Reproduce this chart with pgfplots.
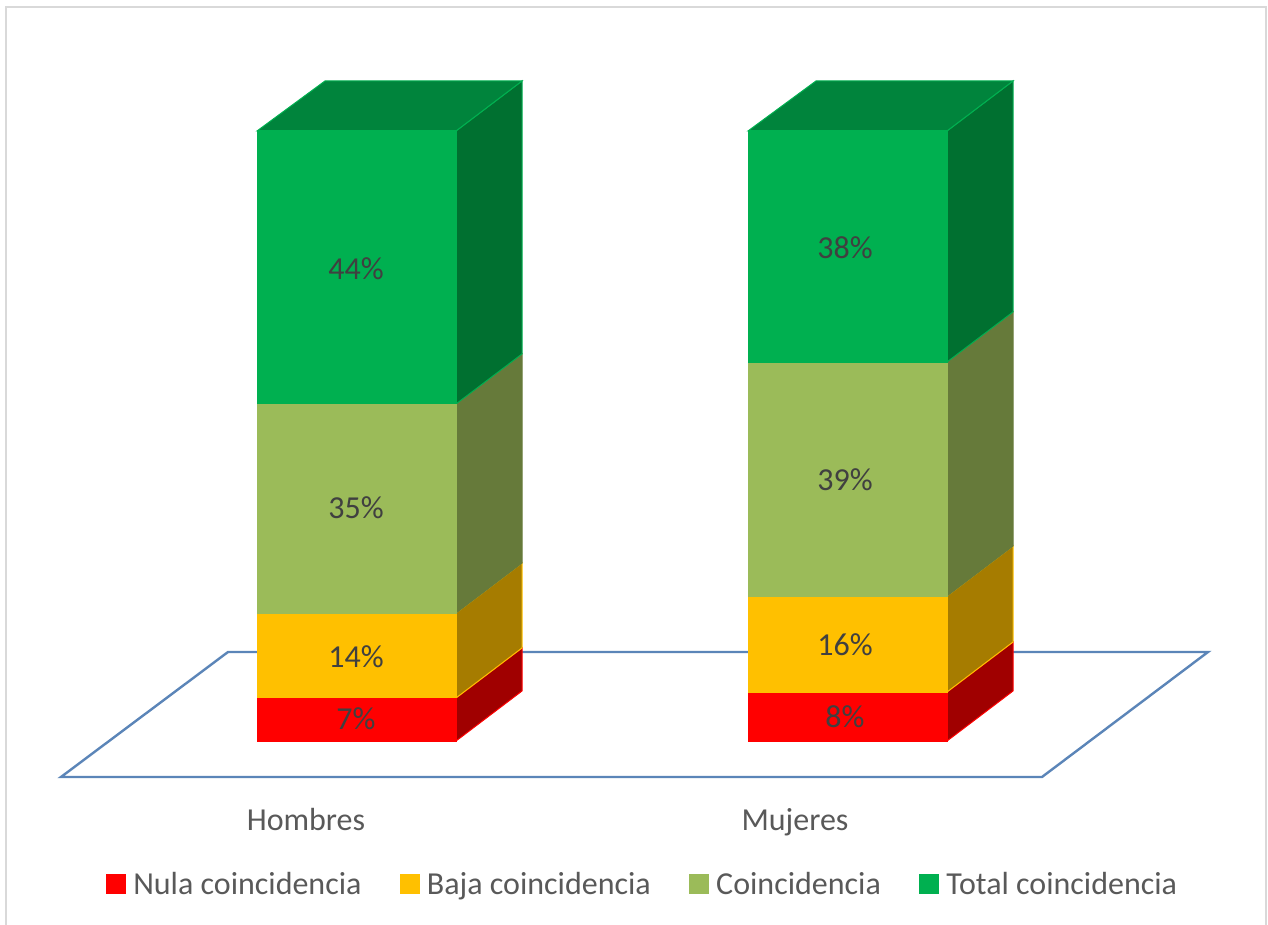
\documentclass[border=0pt]{standalone}
\usepackage{fontspec}
\setmainfont{Carlito}
\usepackage{pgfplots}
\pgfplotsset{compat=1.18}
\definecolor{redF}{HTML}{FF0000}
\definecolor{redS}{HTML}{A00000}
\definecolor{golF}{HTML}{FFC000}
\definecolor{golS}{HTML}{A67C00}
\definecolor{oliF}{HTML}{9BBB59}
\definecolor{oliS}{HTML}{667A3A}
\definecolor{greF}{HTML}{00B050}
\definecolor{greS}{HTML}{007030}
\definecolor{greT}{HTML}{00843C}
\definecolor{floorC}{HTML}{5B85B8}
\definecolor{lab}{HTML}{404040}
\definecolor{txt}{HTML}{595959}
\begin{document}
\begin{tikzpicture}
\useasboundingbox (0,0) rectangle (1268pt,924pt);
\begin{axis}[
  at={(0,0)}, anchor=south west,
  scale only axis, width=1268pt, height=924pt,
  xmin=0, xmax=1268, ymin=-30, ymax=121.475,
  hide axis, clip=true,
  legend columns=4,
  legend cell align=left,
  legend style={draw=none, fill=none, at={(axis cs:642.5,-23.45)}, anchor=center,
    font=\fontsize{32}{36}\selectfont\color{txt}, inner sep=0pt,
    /tikz/every odd column/.append style={column sep=6pt},
    /tikz/every even column/.append style={column sep=36pt}},
  legend image code/.code={\fill[#1] (0pt,-9.5pt) rectangle (19pt,9.5pt);},
]
% floor
\addplot[draw=floorC, fill=white, line width=2.4pt, line join=miter, forget plot] coordinates {(61,-5.90)(228,14.59)(1208,14.59)(1042,-5.90)} -- cycle;

% Hombres: sides
\addplot[fill=redS, draw=redF, line width=1pt, forget plot] coordinates {(456,0)(522,8.2)(522,15.25)(456,7.05)} -- cycle;
\addplot[fill=golS, draw=golF, line width=1pt, forget plot] coordinates {(456,7.05)(522,15.25)(522,29.18)(456,20.98)} -- cycle;
\addplot[fill=oliS, draw=oliS, line width=1pt, forget plot] coordinates {(456,20.98)(522,29.18)(522,63.45)(456,55.25)} -- cycle;
\addplot[fill=greS, draw=greF, line width=1pt, forget plot] coordinates {(456,55.25)(522,63.45)(522,108.2)(456,100)} -- cycle;
\addplot[fill=greT, draw=greF, line width=1pt, forget plot] coordinates {(257,100)(325,108.2)(522,108.2)(456,100)} -- cycle;
% Hombres: front
\addplot[fill=redF, draw=redF, line width=1pt, forget plot] coordinates {(257,0)(456,0)(456,7.05)(257,7.05)} -- cycle;
\addplot[fill=golF, draw=golF, line width=1pt, forget plot] coordinates {(257,7.05)(456,7.05)(456,20.98)(257,20.98)} -- cycle;
\addplot[fill=oliF, draw=oliF, line width=1pt, forget plot] coordinates {(257,20.98)(456,20.98)(456,55.25)(257,55.25)} -- cycle;
\addplot[fill=greF, draw=greF, line width=1pt, forget plot] coordinates {(257,55.25)(456,55.25)(456,100)(257,100)} -- cycle;

% Mujeres: sides
\addplot[fill=redS, draw=redF, line width=1pt, forget plot] coordinates {(947,0)(1013,8.2)(1013,16.23)(947,8.03)} -- cycle;
\addplot[fill=golS, draw=golF, line width=1pt, forget plot] coordinates {(947,8.03)(1013,16.23)(1013,31.97)(947,23.77)} -- cycle;
\addplot[fill=oliS, draw=oliS, line width=1pt, forget plot] coordinates {(947,23.77)(1013,31.97)(1013,70.33)(947,62.13)} -- cycle;
\addplot[fill=greS, draw=greF, line width=1pt, forget plot] coordinates {(947,62.13)(1013,70.33)(1013,108.2)(947,100)} -- cycle;
\addplot[fill=greT, draw=greF, line width=1pt, forget plot] coordinates {(748,100)(816,108.2)(1013,108.2)(947,100)} -- cycle;
% Mujeres: front
\addplot[fill=redF, draw=redF, line width=1pt, forget plot] coordinates {(748,0)(947,0)(947,8.03)(748,8.03)} -- cycle;
\addplot[fill=golF, draw=golF, line width=1pt, forget plot] coordinates {(748,8.03)(947,8.03)(947,23.77)(748,23.77)} -- cycle;
\addplot[fill=oliF, draw=oliF, line width=1pt, forget plot] coordinates {(748,23.77)(947,23.77)(947,62.13)(748,62.13)} -- cycle;
\addplot[fill=greF, draw=greF, line width=1pt, forget plot] coordinates {(748,62.13)(947,62.13)(947,100)(748,100)} -- cycle;

% data labels
\addplot[draw=none, mark=none, forget plot, point meta=explicit symbolic,
  nodes near coords, nodes near coords style={anchor=base, inner sep=0pt,
    font=\fontsize{32}{36}\selectfont, text=lab}]
  coordinates {
    (356,1.95) [7\%]
    (356,12.11) [14\%]
    (356,36.54) [35\%]
    (356,75.72) [44\%]
    (845,2.27) [8\%]
    (845,14.08) [16\%]
    (845,41.13) [39\%]
    (845,79.16) [38\%]
  };
% category labels
\addplot[draw=none, mark=none, forget plot, point meta=explicit symbolic,
  nodes near coords, nodes near coords style={anchor=base, inner sep=0pt,
    font=\fontsize{32}{36}\selectfont, text=txt}]
  coordinates {
    (306,-14.61) [Hombres]
    (795,-14.61) [Mujeres]
  };

% frame
\draw[color=black!15, line width=2pt] (axis cs:6,-31) -- (axis cs:6,120.33) -- (axis cs:1266,120.33) -- (axis cs:1266,-31);

\addlegendimage{redF}\addlegendentry{Nula coincidencia}
\addlegendimage{golF}\addlegendentry{Baja coincidencia}
\addlegendimage{oliF}\addlegendentry{Coincidencia}
\addlegendimage{greF}\addlegendentry{Total coincidencia}
\end{axis}
\end{tikzpicture}
\end{document}
